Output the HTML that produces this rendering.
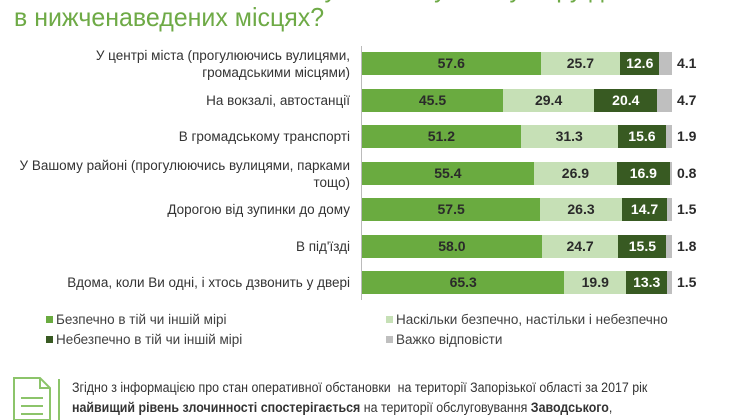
<!DOCTYPE html>
<html><head><meta charset="utf-8"><style>
body{margin:0;width:750px;height:420px;overflow:hidden;background:#fff;font-family:"Liberation Sans","DejaVu Sans",sans-serif;position:relative}
.a{position:absolute}
.lbl{position:absolute;right:400px;text-align:right;font-size:13.5px;color:#333;line-height:17px;white-space:nowrap}
.seg{position:absolute;height:23px;line-height:23px;text-align:center;font-weight:bold;font-size:14px;color:#2a2a2a}
.g1{background:#6aab40}.g2{background:#c6e0b6}.g3{background:#385a22;color:#fff}.g4{background:#bfbfbf}
.out{position:absolute;font-weight:bold;font-size:14px;color:#2a2a2a;line-height:23px}
.leg{position:absolute;font-size:13.5px;color:#404040;white-space:nowrap}
.ft{position:absolute;font-size:13.5px;color:#333;white-space:nowrap;transform:scaleX(.92);transform-origin:left center}
.sq{display:inline-block;width:7px;height:7px;margin-right:3px;vertical-align:1px}
</style></head><body>
<div class="a" style="left:14px;top:-27px;font-size:26px;color:#6eaa46;transform:scaleX(.96);transform-origin:left;white-space:nowrap">Наскільки безпечно Ви почуваєтесь у темну пору доби</div>
<div class="a" style="left:14px;top:2px;font-size:26px;color:#6eaa46;transform:scaleX(.96);transform-origin:left;white-space:nowrap">в нижченаведених місцях?</div>
<div class="a" style="left:361px;top:46px;width:1px;height:254px;background:#bbb"></div>
<div id="c"></div>
<div class="leg" style="left:46px;top:312px"><span class="sq g1"></span>Безпечно в тій чи іншій мірі</div>
<div class="leg" style="left:386px;top:312px"><span class="sq g2"></span>Наскільки безпечно, настільки і небезпечно</div>
<div class="leg" style="left:46px;top:332px"><span class="sq" style="background:#385a22"></span>Небезпечно в тій чи іншій мірі</div>
<div class="leg" style="left:386px;top:332px"><span class="sq g4"></span>Важко відповісти</div>
<svg class="a" style="left:12px;top:376px" width="40" height="44"><path d="M2 2H28L38 12V44H2Z" fill="none" stroke="#8cc46a" stroke-width="2"/><path d="M28 2V12H38" fill="none" stroke="#8cc46a" stroke-width="2"/><path d="M9 22H31M9 30H31M9 38H31" stroke="#8cc46a" stroke-width="2"/></svg>
<div class="a" style="left:58px;top:379px;width:2px;height:41px;background:#8cc46a"></div>
<div class="ft" style="left:72px;top:380px">Згідно з інформацією про стан оперативної обстановки &nbsp;на території Запорізької області за 2017 рік</div>
<div class="ft" style="left:72px;top:400px"><b>найвищий рівень злочинності спостерігається</b> на території обслуговування <b>Заводського</b>,</div>
<script>
var d=[["У центрі міста (прогулюючись вулицями,<br>громадськими місцями)",57.6,25.7,12.6,4.1],
["На вокзалі, автостанції",45.5,29.4,20.4,4.7],
["В громадському транспорті",51.2,31.3,15.6,1.9],
["У Вашому районі (прогулюючись вулицями, парками<br>тощо)",55.4,26.9,16.9,0.8],
["Дорогою від зупинки до дому",57.5,26.3,14.7,1.5],
["В під'їзді",58.0,24.7,15.5,1.8],
["Вдома, коли Ви одні, і хтось дзвонить у двері",65.3,19.9,13.3,1.5]];
var h="",k=3.1;
d.forEach(function(r,i){var t=52+i*36.5,x=362;
var two=r[0].indexOf("<br>")>0;
h+='<div class="lbl" style="top:'+(t+(two?-5:3))+'px">'+r[0]+'</div>';
for(var j=1;j<=4;j++){var w=r[j]*k;
h+='<div class="seg g'+j+'" style="left:'+x+'px;top:'+t+'px;width:'+w+'px">'+(j<4?r[j].toFixed(1):'')+'</div>';x+=w;}
h+='<div class="out" style="left:'+(x+5)+'px;top:'+t+'px">'+r[4].toFixed(1)+'</div>';});
document.getElementById("c").innerHTML=h;
</script>
</body></html>
